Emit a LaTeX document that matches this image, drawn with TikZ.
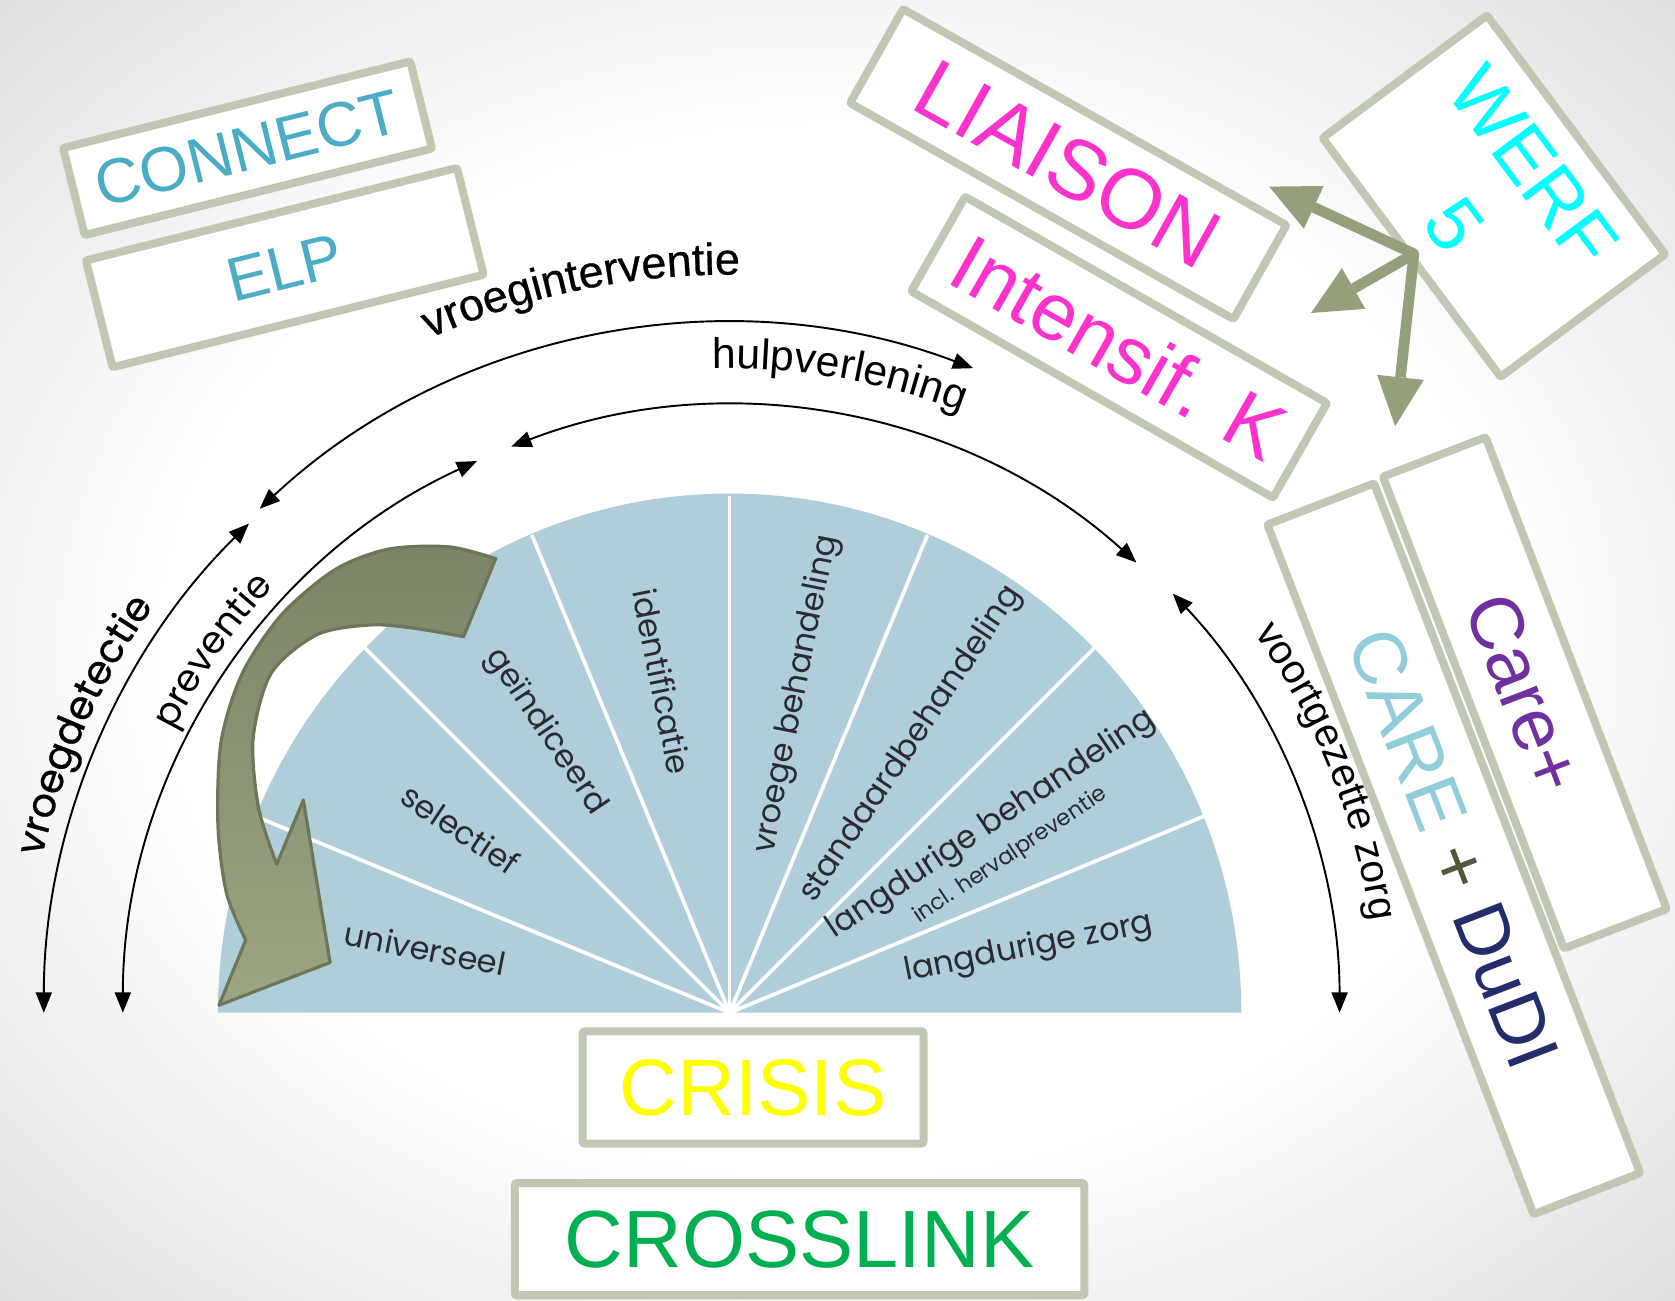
\documentclass[tikz,border=0pt]{standalone}
\usepackage{fontspec}
\setmainfont{Liberation Sans}
\newfontfamily\gothic{Poppins}
\newfontfamily\gothicb{Poppins}[FakeBold=0.7]
\newfontfamily\sansb{Liberation Sans}[FakeBold=0.6]
\usetikzlibrary{arrows.meta,decorations.text}
\definecolor{boxline}{HTML}{C0C8B4}
\definecolor{wedgeblue}{HTML}{AFCEDA}
\definecolor{wtext}{HTML}{2A2A30}
\definecolor{tealc}{HTML}{4BACC6}
\definecolor{magc}{HTML}{FF33CC}
\definecolor{cyanc}{HTML}{00FFFF}
\definecolor{purplec}{HTML}{7030A0}
\definecolor{carelb}{HTML}{92CDDC}
\definecolor{plusc}{HTML}{4F5A3A}
\definecolor{dudic}{HTML}{232D69}
\definecolor{crisisc}{HTML}{FFFF00}
\definecolor{crossc}{HTML}{00B050}
\definecolor{hubgreen}{HTML}{94A07C}
\definecolor{olivetop}{HTML}{7A8467}
\definecolor{olivebot}{HTML}{9CA684}
\definecolor{oliveline}{HTML}{6D7757}
\pgfdeclareradialshading{vign}{\pgfpoint{0bp}{0bp}}{color(0bp)=(white); color(20bp)=(white); color(35bp)=(black!12); color(50bp)=(black!12)}
\begin{document}
\begin{tikzpicture}[x=1pt,y=-1pt,
  box/.style={draw=boxline, line width=7.5pt, fill=white, inner sep=0pt, rounded corners=2pt},
  wl/.style={font=\gothic\fontsize{30}{32}\selectfont, text=wtext, inner sep=0pt},
  ray/.style={draw=white, line width=3.5pt},
  blarc/.style={draw=black, line width=1.8pt, {Triangle[length=19pt,width=15pt]}-{Triangle[length=19pt,width=15pt]}},
  garrow/.style={draw=hubgreen, line width=10pt, -{Triangle[length=46pt,width=44pt,line width=0pt]}},
  bigarrow/.style={draw=oliveline, line width=3pt, line join=round, top color=olivetop, bottom color=olivebot}
]
\useasboundingbox (0,0) rectangle (1568,1217);
\shade[shading=vign] (0,0) rectangle (1568,1217);
\coordinate (C) at (683,948);

% semicircle with wedges
\fill[wedgeblue] ([shift={(-180:479)}]C) arc[start angle=-180, end angle=0, x radius=479, y radius=486] -- cycle;
\foreach \a in {22.5,45,67.5,90,112.5,135,157.5} \draw[ray] (C) -- ++(-\a:484);

% wedge labels
\node[wl, rotate=-11.25] (l1) at (398,888) {universeel};
\node[wl, rotate=-33.75] (l2) at (431,776) {selectief};
\node[wl, rotate=-56.25] (l3) at (511,685) {geïndiceerd};
\node[wl, rotate=-78.75] (l4) at (620,638) {identificatie};
\node[wl, rotate=78.75] (l5) at (746,650) {vroege behandeling};
\node[wl, rotate=56.25] (l6) at (853,697) {standaardbehandeling};
\node[wl, rotate=33.75] (l7) at (928,772) {langdurige behandeling};
\node[wl, rotate=33.75, font=\gothic\fontsize{21}{23}\selectfont] (l8) at (946,801) {incl. hervalpreventie};
\node[wl, rotate=11.25] (l9) at (963,888) {langdurige zorg};

% big curved arrow
\draw[bigarrow] (464,523) -- plot[smooth] coordinates {(434,596) (387,588) (347,585) (297,594) (254,630) (237,691) (242,756) (259,809)}
  -- (284,749) -- (309,901) -- (205,941)
  -- plot[smooth] coordinates {(230,880) (212,836) (204,772) (207,694) (227,630) (264,575) (314,533) (364,514) (421,512) (464,523)} -- cycle;

% black arcs
\draw[blarc] ([shift={(-180:642)}]C) arc[start angle=-180, end angle=-134.5, radius=642];
\draw[blarc] ([shift={(-180:568)}]C) arc[start angle=-180, end angle=-114.6, radius=568];
\draw[blarc] ([shift={(-133:645)}]C) arc[start angle=-133, end angle=-69.3, radius=645];
\draw[blarc] ([shift={(-111.1:568)}]C) arc[start angle=-111.1, end angle=-47.9, radius=568];
\draw[blarc] ([shift={(-43.4:571)}]C) arc[start angle=-43.4, end angle=0, radius=571];

% arc labels
\path[decorate, decoration={text along path, text align=center, text={|\gothicb\fontsize{37}{39}\selectfont|vroegdetectie}}]
  ([shift={(-176:660)}]C) arc[start angle=-176, end angle=-136, radius=660];
\path[decorate, decoration={text along path, text align=center, text={|\gothic\fontsize{35}{37}\selectfont|preventie}}]
  ([shift={(-165:584)}]C) arc[start angle=-165, end angle=-125, radius=584];
\path[decorate, decoration={text along path, text align=center, text={|\sansb\fontsize{42}{44}\selectfont|vroeginterventie}}]
  ([shift={(-121.6:691)}]C) arc[start angle=-121.6, end angle=-81.6, radius=691];
\path[decorate, decoration={text along path, text align=center, text={|\fontsize{40}{42}\selectfont|hulpverlening}}]
  ([shift={(-100.2:603)}]C) arc[start angle=-100.2, end angle=-60.2, radius=603];
\path[decorate, decoration={text along path, text align=center, text={|\fontsize{38}{40}\selectfont|voortgezette zorg}}]
  ([shift={(-47:606)}]C) arc[start angle=-47, end angle=3, radius=606];

% boxes
\node[box, rotate=14, minimum width=335pt, minimum height=84pt, text=tealc, font=\fontsize{59}{62}\selectfont] (connect) at (231.7,138.8) {CONNECT};
\node[box, rotate=14, minimum width=358pt, minimum height=103pt, text=tealc, font=\fontsize{58}{62}\selectfont] (elp) at (266.6,250.5) {ELP};
\node[box, rotate=-29.4, minimum width=412pt, minimum height=101pt, text=magc, font=\fontsize{79}{84}\selectfont] (liaison) at (1000,153.6) {LIAISON};
\node[box, rotate=-29.7, minimum width=390pt, minimum height=102pt, text=magc, font=\fontsize{76}{80}\selectfont] (intensif) at (1047.6,325) {Intensif. K};
\node[box, rotate=-53.3, minimum width=279pt, minimum height=192pt, text=cyanc, align=center, font=\fontsize{72}{92}\selectfont] (werf) at (1398.4,183.6) {WERF\\5};
\node[box, rotate=-68.9, minimum width=692pt, minimum height=107pt, font=\fontsize{70}{74}\selectfont] (caredudi) at (1360.9,794.6) {\textcolor{carelb}{CARE} \textcolor{plusc}{+} \textcolor{dudic}{DuDI}};
\node[box, rotate=-69, minimum width=473pt, minimum height=103pt, text=purplec, font=\fontsize{70}{74}\selectfont] (careplus) at (1427.4,648.6) {Care+};
\node[box, minimum width=319pt, minimum height=105pt, text=crisisc, font=\fontsize{75}{80}\selectfont] (crisis) at (705,1018) {CRISIS};
\node[box, minimum width=533pt, minimum height=105pt, text=crossc, font=\fontsize{76}{80}\selectfont] (crosslink) at (748.5,1160) {CROSSLINK};

% hub arrows
\coordinate (hub) at (1323.6,237.6);
\coordinate (t1) at (1188.1,174.7);
\coordinate (t2) at (1227.3,293);
\coordinate (t3) at (1306,399);
\draw[garrow] (hub) -- (t1);
\draw[garrow] (hub) -- (t2);
\draw[garrow] (hub) -- (t3);
\fill[hubgreen] (hub) circle (5pt);
\end{tikzpicture}
\end{document}
